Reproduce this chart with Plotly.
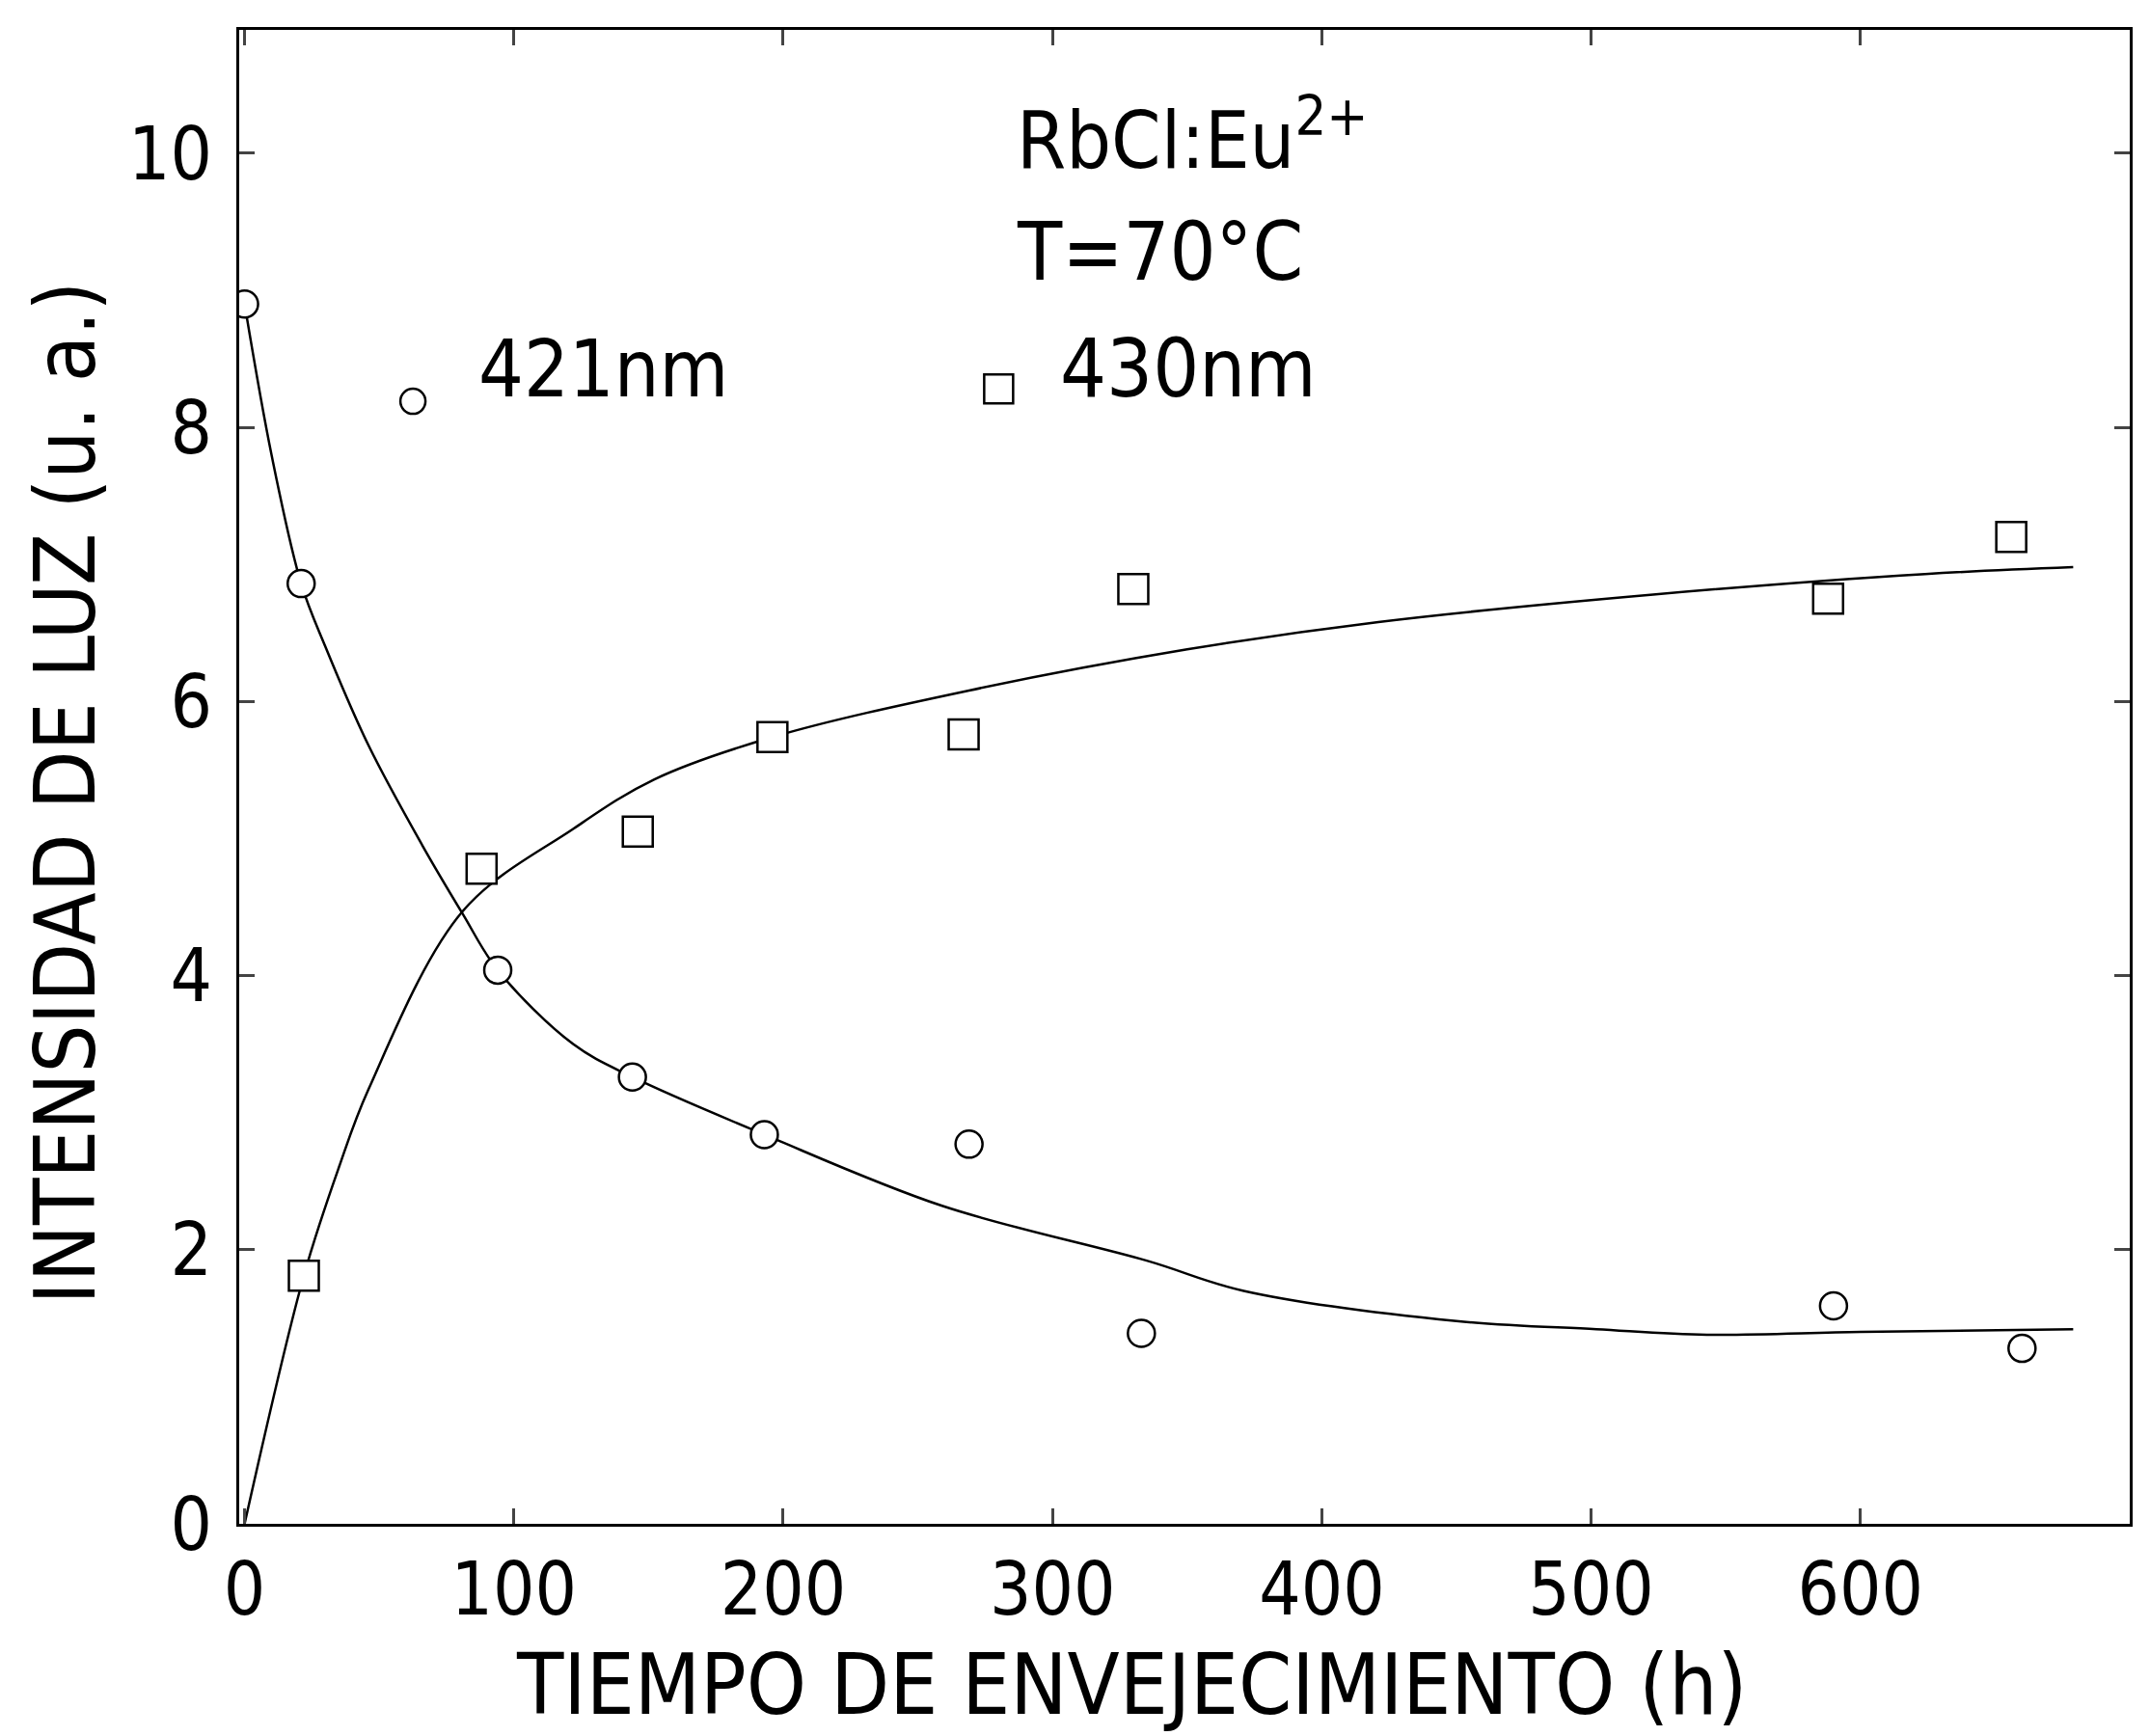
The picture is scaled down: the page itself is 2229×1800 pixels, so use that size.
import plotly.graph_objects as go

# measured points
x421 = [0, 21, 94, 144, 193, 269, 333, 590, 660]
y421 = [8.9, 6.86, 4.04, 3.26, 2.84, 2.77, 1.39, 1.59, 1.28]
x430 = [22, 88, 146, 196, 267, 330, 588, 656]
y430 = [1.81, 4.78, 5.05, 5.74, 5.76, 6.82, 6.75, 7.2]

# fitted curves
cx421 = [0, 10, 21, 30, 46, 66, 81, 94, 122, 144, 193, 259, 335, 371, 450, 502, 543, 600, 679]
cy421 = [8.9, 7.8, 6.86, 6.4, 5.68, 4.95, 4.45, 4.04, 3.5, 3.26, 2.84, 2.32, 1.92, 1.70, 1.48, 1.42, 1.38, 1.40, 1.42]
cx430 = [0, 22, 35, 46, 81, 122, 152, 196, 269, 350, 421, 523, 624, 679]
cy430 = [0, 1.81, 2.6, 3.17, 4.47, 5.07, 5.43, 5.74, 6.08, 6.38, 6.58, 6.78, 6.93, 6.98]

xticks = [0, 100, 200, 300, 400, 500, 600]
yticks = [0, 2, 4, 6, 8, 10]

FONT = "DejaVu Sans Condensed, Liberation Sans Narrow, Liberation Sans, Arial"

fig = go.Figure()
fig.add_trace(go.Scatter(x=cx421, y=cy421, mode="lines", line=dict(color="black", width=2.5, shape="spline"), showlegend=False))
fig.add_trace(go.Scatter(x=cx430, y=cy430, mode="lines", line=dict(color="black", width=2.5, shape="spline"), showlegend=False))
fig.add_trace(go.Scatter(x=x421, y=y421, mode="markers",
                         marker=dict(symbol="circle", size=28, color="white", line=dict(color="black", width=2.5)),
                         showlegend=False))
fig.add_trace(go.Scatter(x=x430, y=y430, mode="markers",
                         marker=dict(symbol="square", size=31, color="white", line=dict(color="black", width=2.5)),
                         showlegend=False))

# legend markers inside plot
fig.add_trace(go.Scatter(x=[62.5], y=[8.19], mode="markers",
                         marker=dict(symbol="circle", size=26, color="white", line=dict(color="black", width=2.5)),
                         showlegend=False))
fig.add_trace(go.Scatter(x=[280], y=[8.28], mode="markers",
                         marker=dict(symbol="square", size=30, color="white", line=dict(color="black", width=2.5)),
                         showlegend=False))

fig.add_annotation(x=86, y=8.43, text="421nm", showarrow=False, xanchor="left",
                   font=dict(family=FONT, size=82, color="black"))
fig.add_annotation(x=302, y=8.43, text="430nm", showarrow=False, xanchor="left",
                   font=dict(family=FONT, size=84, color="black"))
fig.add_annotation(x=286, y=10.13, text="RbCl:Eu<sup>2+</sup>", showarrow=False, xanchor="left",
                   font=dict(family=FONT, size=82, color="black"))
fig.add_annotation(x=286, y=9.28, text="T=70°C", showarrow=False, xanchor="left",
                   font=dict(family=FONT, size=84, color="black"))

# axis titles
fig.add_annotation(xref="paper", yref="paper", x=0.472, y=0, yanchor="middle", yshift=-166,
                   text="TIEMPO DE ENVEJECIMIENTO (h)", showarrow=False,
                   font=dict(family=FONT, size=88, color="black"))
fig.add_annotation(xref="paper", yref="paper", x=0, y=0.489, xanchor="center", xshift=-180,
                   textangle=-90, text="INTENSIDAD DE LUZ (u. a.)", showarrow=False,
                   font=dict(family=FONT, size=88, color="black"))

fig.update_layout(
    width=2229, height=1800,
    margin=dict(l=240, r=29, t=23, b=228),
    plot_bgcolor="white", paper_bgcolor="white",
    font=dict(family=FONT, color="black"),
    xaxis=dict(range=[-2, 700], tickvals=xticks, ticks="inside", ticklen=16, tickwidth=2.5,
               showline=True, linewidth=2.5, linecolor="black", mirror="ticks", showgrid=False, zeroline=False,
               tickfont=dict(family=FONT, size=76), ticklabelstandoff=0),
    yaxis=dict(range=[0, 10.9], tickvals=yticks, ticks="inside", ticklen=16, tickwidth=2.5,
               showline=True, linewidth=2.5, linecolor="black", mirror="ticks", showgrid=False, zeroline=False,
               tickfont=dict(family=FONT, size=76), ticklabelstandoff=10),
)

fig.write_html("out.html")
